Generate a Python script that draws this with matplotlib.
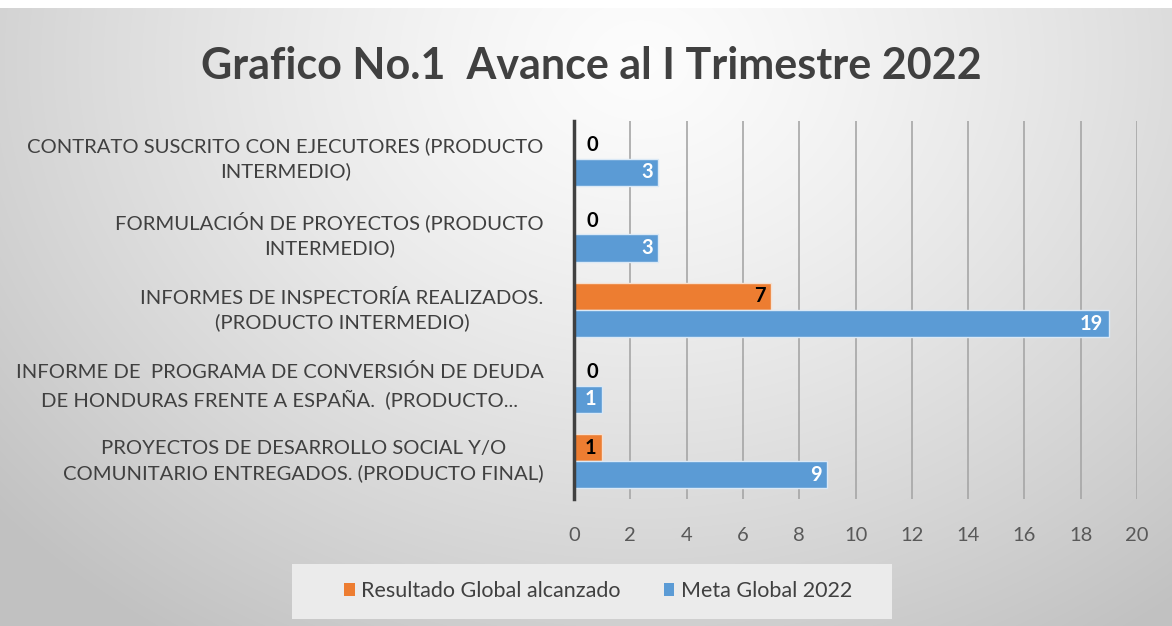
import numpy as np
import matplotlib.pyplot as plt
import matplotlib.transforms as mtransforms
from matplotlib.patches import Rectangle, Patch

plt.rcParams['font.family'] = ['Lato', 'DejaVu Sans']

# categories from bottom to top (matplotlib barh order)
categorias = [
    "PROYECTOS DE DESARROLLO SOCIAL Y/O\nCOMUNITARIO ENTREGADOS. (PRODUCTO FINAL)",
    "INFORME DE  PROGRAMA DE CONVERSIÓN DE DEUDA\nDE HONDURAS FRENTE A ESPAÑA.  (PRODUCTO...",
    "INFORMES DE INSPECTORÍA REALIZADOS.\n(PRODUCTO INTERMEDIO)",
    "FORMULACIÓN DE PROYECTOS (PRODUCTO\nINTERMEDIO)",
    "CONTRATO SUSCRITO CON EJECUTORES (PRODUCTO\nINTERMEDIO)",
]
resultado = [1, 0, 7, 0, 0]
meta = [9, 1, 19, 3, 3]
x_ticks = list(range(0, 21, 2))

naranja = '#ED7D31'
azul = '#5B9BD5'
texto = '#404040'

fig = plt.figure(figsize=(11.72, 6.26), dpi=100)

# gradient background
bg = fig.add_axes([0, 0, 1, 1], zorder=-10)
h, w = 626, 1172
yy, xx = np.mgrid[0:h, 0:w]
d = np.sqrt(((xx - 640) / 760.0) ** 2 + ((yy - 60) / 620.0) ** 2)
val = np.clip(0.99 - 0.20 * d ** 1.3, 0.76, 0.99)
val[:8, :] = 1.0
img = np.dstack([val, val, val])
bg.imshow(img, aspect='auto', extent=[0, 1, 0, 1], origin='upper')
bg.set_axis_off()

ax = fig.add_axes([0.4898, 0.2029, 0.4804, 0.6038])
ax.set_facecolor('none')

y = np.arange(len(categorias))
bh = 0.36
b1 = ax.barh(y + bh / 2, resultado, height=bh, color=naranja, edgecolor='#f6e0d0', linewidth=1, zorder=3)
b2 = ax.barh(y - bh / 2, meta, height=bh, color=azul, edgecolor='#dbe9f6', linewidth=1, zorder=3)

# value labels
for rect, v in zip(b1, resultado):
    cy = rect.get_y() + rect.get_height() / 2
    if v == 0:
        ax.text(0.45, cy, '0', ha='left', va='center', fontsize=14.5, fontweight='bold', color='black', zorder=4)
    else:
        ax.text(v - 0.2, cy, str(v), ha='right', va='center', fontsize=14.5, fontweight='bold', color='black', zorder=4)
for rect, v in zip(b2, meta):
    cy = rect.get_y() + rect.get_height() / 2
    ax.text(v - 0.2, cy, str(v), ha='right', va='center', fontsize=14.5, fontweight='bold', color='white', zorder=4)

ax.set_xlim(0, 20)
ax.set_ylim(-0.5, len(categorias) - 0.5)
ax.set_xticks(x_ticks)
ax.set_xticklabels([str(t) for t in x_ticks], fontsize=14.5, color='#595959')
ax.set_yticks(y)
ax.set_yticklabels(categorias, fontsize=14.6, color=texto, multialignment='center', linespacing=1.45)
ax.tick_params(axis='x', length=0, pad=20)
ax.tick_params(axis='y', length=0, pad=22)
shift = mtransforms.ScaledTranslation(0, 5 / 100, fig.dpi_scale_trans)
for lbl in ax.get_yticklabels():
    lbl.set_transform(lbl.get_transform() + shift)
ax.grid(axis='x', color='#a6a6a6', linewidth=1.2, zorder=0)
for s in ['top', 'right', 'bottom']:
    ax.spines[s].set_visible(False)
ax.spines['left'].set_color('#404040')
ax.spines['left'].set_linewidth(2.5)
ax.spines['left'].set_zorder(5)

fig.text(0.505, 0.895, 'Grafico No.1  Avance al I Trimestre 2022', ha='center', va='center',
         fontsize=31, fontweight='bold', color=texto)

# legend box
fig.patches.append(Rectangle((292 / w, 1 - 619 / h), 600 / w, 55 / h, transform=fig.transFigure,
                             facecolor='#ebebeb', edgecolor='none', zorder=1))
handles = [Patch(facecolor=naranja, label='Resultado Global alcanzado'),
           Patch(facecolor=azul, label='Meta Global 2022')]
fig.legend(handles=handles, loc='center', bbox_to_anchor=(598 / w, 1 - 591 / h), ncol=2, frameon=False,
           fontsize=15.5, handlelength=0.5, handleheight=0.6, handletextpad=0.3, columnspacing=2.0,
           labelcolor=texto)

fig.savefig('out.png', dpi=100)
